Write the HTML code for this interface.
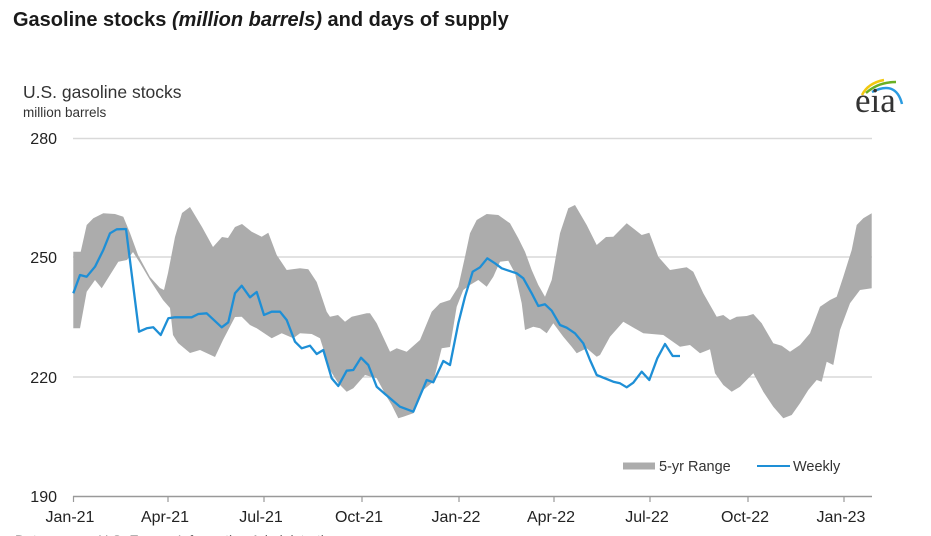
<!DOCTYPE html>
<html><head><meta charset="utf-8"><style>
html,body{margin:0;padding:0;background:#fff;}
body{width:931px;height:536px;overflow:hidden;position:relative;font-family:"Liberation Sans",Arial,sans-serif;}
svg{position:absolute;left:0;top:0;}
</style></head><body>
<svg width="931" height="536" viewBox="0 0 931 536" xmlns="http://www.w3.org/2000/svg">
<text x="13" y="26" font-family="Liberation Sans, Arial, sans-serif" font-size="20" font-weight="bold" fill="#1a1a1a">Gasoline stocks <tspan font-style="italic">(million barrels)</tspan> and days of supply</text>
<text x="23" y="98" font-family="Liberation Sans, Arial, sans-serif" font-size="17.5" fill="#333">U.S. gasoline stocks</text>
<text x="23" y="117" font-family="Liberation Sans, Arial, sans-serif" font-size="13.5" fill="#333">million barrels</text>

<!-- eia logo -->
<path d="M862,95 Q868,83 884,80" stroke="#f2c80f" stroke-width="2.5" fill="none"/>
<path d="M866,93 Q878,82 896,82" stroke="#6ab023" stroke-width="2.5" fill="none"/>
<path d="M872,92 Q896,80 902,104" stroke="#2a9be0" stroke-width="2.5" fill="none"/>
<text x="855" y="112" font-family="Liberation Serif, Times New Roman, serif" font-size="35" fill="#333">eia</text>

<!-- gridlines -->
<line x1="73" y1="138.5" x2="872" y2="138.5" stroke="#d9d9d9" stroke-width="1.5"/>
<line x1="73" y1="257" x2="872" y2="257" stroke="#c4c4c4" stroke-width="1"/>
<line x1="73" y1="377" x2="872" y2="377" stroke="#c4c4c4" stroke-width="1"/>

<!-- y labels -->
<g font-family="Liberation Sans, Arial, sans-serif" font-size="16" fill="#222" text-anchor="end">
<text x="57" y="144">280</text>
<text x="57" y="263">250</text>
<text x="57" y="383">220</text>
<text x="57" y="502">190</text>
</g>

<!-- band -->
<polygon fill="#acacac" points="73.3,251.7 80.7,251.7 86.7,225 93.3,218.3 103.3,213.3 115,214 123.3,216.7 130,233 138,255 150,277 160,288 164,290 168,273 175,237 182,213 190,207 202,227 213,247 222,237 228,238 235,227 242,224 251.7,231.7 261.7,236.7 268.3,232.7 276.7,255 286.7,270 300,268.3 308.3,269.3 316.7,282 326.7,311.7 330,316.7 338,315 345,321.7 351.7,316.7 366.7,313.3 370,313.3 376.7,323.3 390,351.7 396.7,348.3 406.7,351.7 420,340 431.7,311.7 440,303.3 450,300 458.3,286.7 465,256.7 470,233.3 476.7,220 486.7,214 498.3,215 510,223.3 518.3,238.3 525,251.7 531.7,270 538.3,285 545,296.7 551.7,280 560,233.3 568.3,208.3 575,205 586.7,225 596.7,245 606,237 613.3,236.7 626.7,223.3 641.7,235 649.3,232.7 658.3,256.7 670,270 686.7,267.3 693.3,271.7 703.3,293.3 716.7,316.7 723.3,315 730,320 736.7,316.7 746.7,316 753.3,314 761.7,323.3 773.3,343.3 781.7,345.7 790,351.7 800,345 810,333.3 820,306.7 830,300 836.7,296.7 843.3,276.7 851.7,250 856.7,225 863.3,218.3 871.7,213.3 871.7,288.3 860,290 850,303.3 840,330 833.3,365 826.7,361.7 821.7,381.7 816.7,380 808.3,390 800,403.3 791.7,415 783.3,418.3 773.3,406.7 763.3,391.7 753.3,373.3 740,386.7 731.7,391.7 723.3,385 715,373.3 710,349.3 700,353.3 690,345 680,346.7 663.3,335 643.3,333.3 623.3,321.7 610,336.7 600,355 596.7,356.7 586.7,348.3 576.7,353.3 571.7,346.7 563.3,336.7 553.3,323.3 546.7,333.3 540,328.3 533.3,326.7 525,330 521.7,303.3 515,273.3 508.3,260.7 500,261.7 493.3,276.7 486.7,286.7 478.3,280 470,285 463.3,290 456.7,306.7 450,347 441.7,348.3 433.3,381.7 423.3,390 413.3,413.3 403.3,416.7 398.3,418.3 391.7,405 386.7,396.7 376.7,378.3 365,375 353.3,388.3 346.7,391.7 338.3,383.3 330,370 320,338.3 311.7,334 300,333.3 293.3,338.3 281.7,333.3 271.7,338.3 256.7,328.3 250,325 241.7,316.7 235,317 223,340 215,357 200,350 190,353 178,343 173,335 170,308 163,300 150,280 140,263 133,252 127,260 118.3,261.7 110,275 101.7,288.3 95,280 86.7,291.7 80,328.3 73.3,328.3"/>

<!-- weekly -->
<polyline fill="none" stroke="#1e8fd6" stroke-width="2.3" stroke-linejoin="round" points="73.3,293.3 80,275 86.7,276.7 95,266.7 103.3,250 110,233.3 116.7,229.3 126,229 139,331.7 146.7,328.3 153.3,327.3 160.7,335 168.3,318.3 175,317.3 191.7,317.3 198.3,314 206.7,313.3 221.7,327.3 228.3,322.3 235,293.3 241.7,285.7 250,297.3 256.7,292 264,315 271.7,311.7 280,311.7 286.7,320 295,341.7 301.7,348.3 310,345.7 316.7,354 323.3,350 331.7,378.3 338.3,386 346.7,370.7 353.3,370 361,357.7 368.3,365 376.7,386.7 385,394 400,406.7 413.3,411.7 426.7,380 433.3,382.3 443.3,361 450,365 458.3,323.3 465,296.7 472.7,271.7 480,267.3 487.3,258.3 495,263.3 501.7,268.3 511.7,271.7 516.7,273.3 523.3,278.3 531.7,293.3 538.3,306 545,304.3 551.7,310.7 560,325 566.7,327.7 575,333.3 583.3,343.3 590,360 596.7,375 613.3,381.7 620,383.3 626.7,387.3 633.3,382.7 641.7,371.7 649.3,380 657.3,358.3 665,344 672.7,356 680,356"/>

<!-- axis -->
<line x1="73" y1="496.5" x2="872" y2="496.5" stroke="#999" stroke-width="1.6"/>
<g stroke="#999" stroke-width="1.2">
<line x1="73.5" y1="496" x2="73.5" y2="502"/>
<line x1="168" y1="496" x2="168" y2="502"/>
<line x1="264" y1="496" x2="264" y2="502"/>
<line x1="362" y1="496" x2="362" y2="502"/>
<line x1="459" y1="496" x2="459" y2="502"/>
<line x1="554" y1="496" x2="554" y2="502"/>
<line x1="650" y1="496" x2="650" y2="502"/>
<line x1="748" y1="496" x2="748" y2="502"/>
<line x1="844" y1="496" x2="844" y2="502"/>
</g>
<g font-family="Liberation Sans, Arial, sans-serif" font-size="16" fill="#222" text-anchor="middle">
<text x="70" y="522">Jan-21</text>
<text x="165" y="522">Apr-21</text>
<text x="261" y="522">Jul-21</text>
<text x="359" y="522">Oct-21</text>
<text x="456" y="522">Jan-22</text>
<text x="551" y="522">Apr-22</text>
<text x="647" y="522">Jul-22</text>
<text x="745" y="522">Oct-22</text>
<text x="841" y="522">Jan-23</text>
</g>

<!-- legend -->
<rect x="623" y="462.5" width="32" height="7" fill="#acacac"/>
<text x="659" y="471" font-family="Liberation Sans, Arial, sans-serif" font-size="14.5" fill="#333">5-yr Range</text>
<line x1="757" y1="466" x2="790" y2="466" stroke="#1e8fd6" stroke-width="2"/>
<text x="793" y="471" font-family="Liberation Sans, Arial, sans-serif" font-size="14.5" fill="#333">Weekly</text>

<text x="15" y="545" font-family="Liberation Sans, Arial, sans-serif" font-size="14" fill="#666">Data source: U.S. Energy Information Administration</text>
</svg>
</body></html>
